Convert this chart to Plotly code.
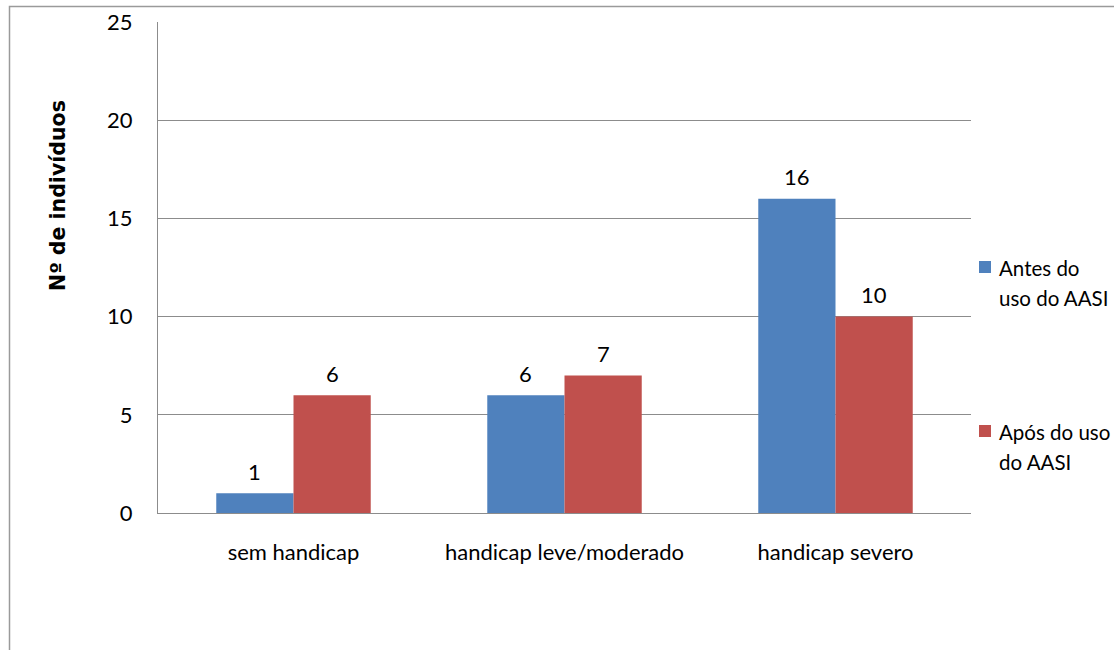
import plotly.graph_objects as go

categories = ["sem handicap", "handicap leve/moderado", "handicap severo"]
antes = [1, 6, 16]
apos = [6, 7, 10]
series_names = ["Antes do uso do AASI", "Após do uso do AASI"]
legend_lines = [["Antes do", "uso do AASI"], ["Após do uso", "do AASI"]]
y_ticks = [0, 5, 10, 15, 20, 25]
y_title = "Nº de indivíduos"

colors = ["#4F81BD", "#C0504D"]
FONT = "Lato, Carlito, Calibri, sans-serif"
FS = 22

W, H = 1114, 650
L, R, T, B = 158, 143, 22, 137
pw, ph = W - L - R, H - T - B

def px_x(p):
    return (p - L) / pw

def px_y(p):
    return (H - B - p) / ph

fig = go.Figure()
for vals, name, col in zip([antes, apos], series_names, colors):
    fig.add_trace(go.Bar(x=categories, y=vals, name=name, marker=dict(color=col, line=dict(width=0)),
                         showlegend=False))

bargap = 0.43
barw_px = pw / len(categories) * (1 - bargap) / 2
annotations = []
for vals, sgn in zip([antes, apos], [-1, 1]):
    for c, v in zip(categories, vals):
        annotations.append(dict(x=c, y=v, xref="x", yref="y", text=str(v), showarrow=False,
                                xshift=sgn * barw_px / 2, yshift=22, yanchor="middle",
                                font=dict(family=FONT, size=FS, color="#000")))

# y-axis title
annotations.append(dict(x=px_x(58), y=px_y(196), xref="paper", yref="paper", text="<b>" + y_title + "</b>",
                        textangle=-90, showarrow=False, xanchor="center", yanchor="middle",
                        font=dict(family="DejaVu Sans, sans-serif", size=20.5, color="#000")))

shapes = []
# outer border
shapes.append(dict(type="rect", xref="paper", yref="paper", x0=px_x(9.5), x1=px_x(1130), y0=px_y(6.5), y1=px_y(670),
                   line=dict(color="#9a9a9a", width=1.5), layer="below"))

# legend
leg_sq_y = [267, 431]
for i, (lines, col) in enumerate(zip(legend_lines, colors)):
    y0 = leg_sq_y[i]
    shapes.append(dict(type="rect", xref="paper", yref="paper", x0=px_x(979), x1=px_x(991),
                       y0=px_y(y0 - 6), y1=px_y(y0 + 6), fillcolor=col, line=dict(width=0)))
    for j, ln in enumerate(lines):
        annotations.append(dict(x=px_x(997), y=px_y(y0 + 1 + j * 29.5), xref="paper", yref="paper", text=ln,
                                showarrow=False, xanchor="left", yanchor="middle",
                                font=dict(family=FONT, size=20.5, color="#000")))

fig.update_layout(
    width=W, height=H,
    margin=dict(l=L, r=R, t=T, b=B, autoexpand=False),
    paper_bgcolor="white", plot_bgcolor="white",
    barmode="group", bargap=bargap, bargroupgap=0,
    font=dict(family=FONT, size=FS, color="#000"),
    annotations=annotations, shapes=shapes,
    xaxis=dict(showgrid=False, showline=True, linecolor="#8c8c8c", linewidth=1,
               ticks="outside", ticklen=0, ticklabelstandoff=20,
               tickfont=dict(family=FONT, size=FS, color="#000")),
    yaxis=dict(range=[0, 25], tickvals=y_ticks, showgrid=True, gridcolor="#8c8c8c", gridwidth=1,
               showline=True, linecolor="#8c8c8c", linewidth=1, zeroline=False,
               ticks="outside", ticklen=0, ticklabelstandoff=20,
               tickfont=dict(family=FONT, size=FS, color="#000")),
)

fig.write_html("out.html")
